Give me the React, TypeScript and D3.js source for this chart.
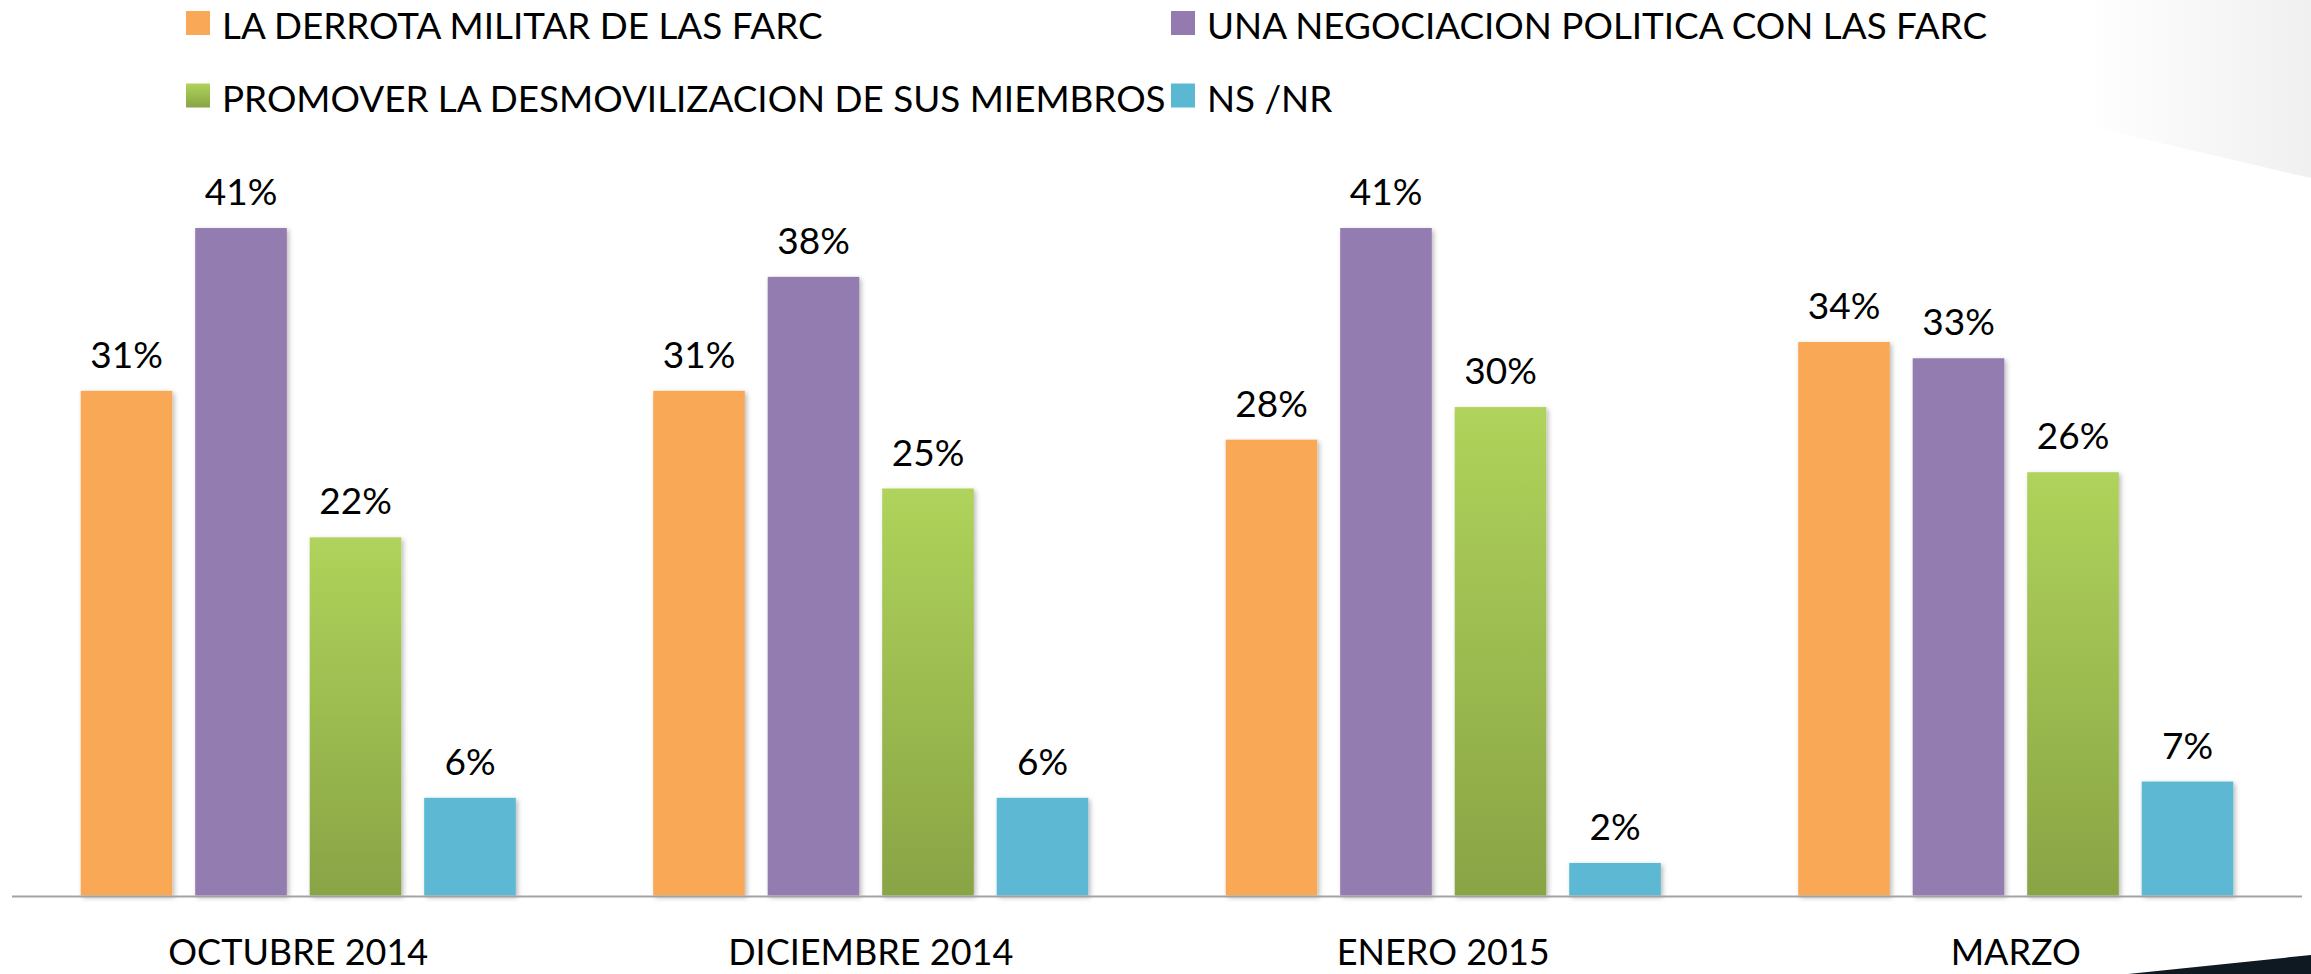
import React from "react";
import * as d3 from "d3";

const categories = ["OCTUBRE 2014", "DICIEMBRE 2014", "ENERO 2015", "MARZO"];
const seriesNames = [
  "LA DERROTA MILITAR DE LAS FARC",
  "UNA NEGOCIACION POLITICA CON LAS FARC",
  "PROMOVER LA DESMOVILIZACION DE SUS MIEMBROS",
  "NS /NR",
];
const derrota = [31, 31, 28, 34];
const negociacion = [41, 38, 41, 33];
const promover = [22, 25, 30, 26];
const nsnr = [6, 6, 2, 7];

const W = 2311;
const H = 974;
const FONT = "Lato, 'Open Sans', sans-serif";

export default function App() {
  const values = [derrota, negociacion, promover, nsnr];
  const fills = ["#f9a857", "#937bb0", "url(#greenGrad)", "#5bb8d3"];

  const x0 = d3.scaleBand<string>().domain(categories).range([12, 2302]).paddingInner(0).paddingOuter(0);
  const x1 = d3
    .scaleBand<string>()
    .domain(seriesNames)
    .range([0, x0.bandwidth()])
    .paddingInner(0.2)
    .paddingOuter(0.6);
  const y = d3.scaleLinear().domain([0, 45]).range([895.5, 895.5 - 45 * 16.28]);

  const legendPos = [
    { x: 186, y: 11 },
    { x: 1171, y: 11 },
    { x: 186, y: 83.5 },
    { x: 1171, y: 83.5 },
  ];

  return (
    <div style={{ position: "absolute", left: 0, top: 0, width: W, height: H, overflow: "hidden" }}>
      <svg width={W} height={H} style={{ display: "block", background: "#fff" }}>
        <defs>
          <linearGradient id="greenGrad" x1="0" y1="0" x2="0" y2="1">
            <stop offset="0" stopColor="#afd35b" />
            <stop offset="1" stopColor="#89a445" />
          </linearGradient>
          <linearGradient id="grayGrad" x1="1900" y1="0" x2="2311" y2="0" gradientUnits="userSpaceOnUse">
            <stop offset="0.45" stopColor="#ffffff" />
            <stop offset="1" stopColor="#f0f0f0" />
          </linearGradient>
          <filter id="shadow" x="-10%" y="-10%" width="130%" height="130%">
            <feDropShadow dx="2" dy="2" stdDeviation="2.5" floodColor="#000" floodOpacity="0.28" />
          </filter>
        </defs>

        {/* decorative background shapes */}
        <polygon points="1900,0 2311,0 2311,178 1900,82" fill="url(#grayGrad)" />
        <polygon points="2128,974 2311,955 2311,974" fill="#0e1922" />

        {/* legend */}
        {seriesNames.map((s, i) => (
          <g key={s}>
            <rect x={legendPos[i].x} y={legendPos[i].y} width={24} height={24} fill={fills[i]} />
            <text
              x={legendPos[i].x + 36}
              y={legendPos[i].y + 28}
              fontFamily={FONT}
              fontSize={36.8}
              fill="#000"
            >
              {s}
            </text>
          </g>
        ))}

        {/* bars */}
        {categories.map((c, ci) => (
          <g key={c} transform={`translate(${x0(c)},0)`}>
            {seriesNames.map((s, si) => {
              const v = values[si][ci];
              const bx = x1(s)!;
              const by = y(v);
              return (
                <g key={s}>
                  <rect
                    x={bx}
                    y={by}
                    width={x1.bandwidth()}
                    height={y(0) - by}
                    fill={fills[si]}
                    filter="url(#shadow)"
                  />
                  <text
                    x={bx + x1.bandwidth() / 2}
                    y={by - 23}
                    textAnchor="middle"
                    fontFamily={FONT}
                    fontSize={37}
                    fill="#000"
                  >
                    {v}%
                  </text>
                </g>
              );
            })}
          </g>
        ))}

        {/* axis line */}
        <line x1={12} x2={2302} y1={y(0) + 1} y2={y(0) + 1} stroke="#a3a3a3" strokeWidth={2} />

        {/* category labels */}
        {categories.map((c) => (
          <text
            key={c}
            x={x0(c)! + x0.bandwidth() / 2}
            y={965}
            textAnchor="middle"
            fontFamily={FONT}
            fontSize={36}
            fill="#000"
          >
            {c}
          </text>
        ))}
      </svg>
    </div>
  );
}
